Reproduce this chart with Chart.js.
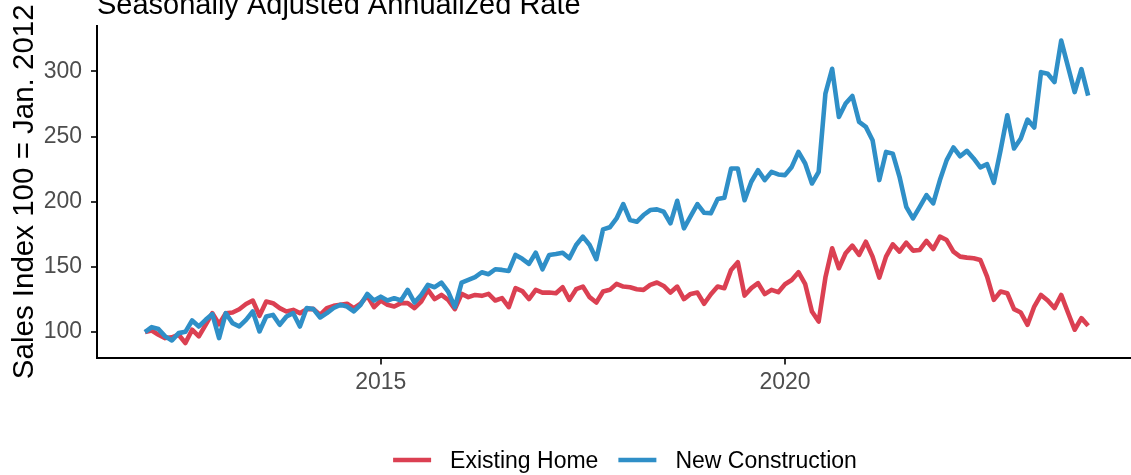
<!DOCTYPE html>
<html>
<head>
<meta charset="utf-8">
<script src="https://cdn.jsdelivr.net/npm/chart.js@4"></script>
<style>
html,body{margin:0;padding:0;background:#fff;overflow:hidden;}
#wrap{width:1131px;height:475px;position:relative;}
</style>
</head>
<body>
<div id="wrap"><canvas id="c" width="1131" height="475"></canvas></div>
<script>
// ---- Data ----
const startYear = 2012; // series begin Jan. 2012, one value per month (plotted at month end)
const seriesNames = ['Existing Home', 'New Construction'];
const existingHome = [
  100, 101.2, 98, 95.4, 96, 98, 91.6, 101.8, 96.7, 105.6, 114.5, 106,
  114.5, 115, 117.5, 121.5, 124.2, 112.5, 123.4, 122.2, 118.4, 115.8, 117, 114.5,
  117.6, 117.8, 113.2, 118.4, 120.1, 120.9, 121.7, 118.4, 121.7, 127.8, 119.1, 124.2,
  120.9, 119.6, 122.2, 122.2, 118.4, 123.4, 132.4, 125.3, 128.5, 124.7, 117.6, 129.3,
  126.8, 128.5, 127.8, 129.3, 124.2, 126, 119.1, 133.7, 131.5, 125.3, 132.4, 130.3,
  130.3, 129.8, 134.4, 124.7, 132.9, 134.9, 126.8, 122.7, 131.1, 132.4, 137, 134.9,
  134.4, 132.9, 132.4, 136.2, 138, 135.4, 130.3, 134.9, 125.3, 129.3, 130.3, 121.7,
  129, 134.9, 133.7, 147.7, 153.6, 128, 133.7, 137.5, 129.1, 132.4, 130.6, 136.7,
  140, 145.9, 136.7, 115.8, 108.1, 141.8, 164.3, 149, 160.5, 166.3, 159.2, 169.3,
  157.9, 141.8, 157.9, 167.3, 161.7, 168.6, 162.5, 163, 169.9, 163.7, 173.2, 170.6,
  161.7, 157.9, 157.1, 156.6, 155.3, 142.6, 124.7, 131.1, 129.8, 117.6, 115, 105.6,
  119.6, 128.5, 124.2, 118.4, 128.5, 115, 101.8, 110.7, 104.8
];
const newConstruction = [
  100, 103.8, 102.3, 96.7, 93.6, 99.2, 100.2, 108.9, 104.3, 109.4, 113.8, 95.4,
  114.5, 106.9, 104.3, 109.4, 115.8, 100.5, 111.9, 113.2, 105.6, 111.9, 114.5, 104.3,
  118.4, 117.6, 111.2, 114.5, 118.5, 120.9, 119.6, 115.8, 120.9, 129.3, 124.2, 127.2,
  124.2, 126, 124.2, 132.4, 122.7, 128.5, 136.2, 134.4, 138, 131.1, 119.1, 138,
  140, 142.1, 145.9, 144.4, 148.2, 147.7, 146.9, 159.2, 156.2, 152.3, 160.9, 148.2,
  159.2, 159.9, 160.9, 156.6, 166.8, 173.2, 166.8, 155.9, 178.8, 180.4, 187.2, 198.2,
  185.9, 184.6, 189.8, 193.6, 194.1, 192.3, 183.4, 200.7, 179.6, 189, 198.2, 191.5,
  191.1, 202, 203, 225.5, 225.5, 201.2, 215.3, 224.2, 216.6, 222.9, 220.9, 220.4,
  226.7, 238.2, 229.3, 214, 222.9, 282.9, 302, 265, 275.3, 281.1, 261.2, 257.4,
  247.2, 216.6, 238.2, 236.9, 219.1, 196.1, 187.2, 196.1, 205.1, 198.7, 216.6, 231.9,
  241.6, 234.9, 239, 233.2, 226.3, 228.8, 214.5, 239.5, 266.3, 240.8, 248.5, 263,
  256.9, 299.4, 298.2, 291.8, 323.6, 303.8, 284.1, 301.7, 281.4
];
const xTickYears = [2015, 2020];
const xTickLabels = ['2015', '2020'];
const yTickValues = [100, 150, 200, 250, 300];
const yTickLabels = ['100', '150', '200', '250', '300'];
const subtitleText = 'Seasonally Adjusted Annualized Rate';
const yAxisTitle = 'Sales Index 100 = Jan. 2012';

// ---- Styling ----
const FONT = "'Liberation Sans', Arial, Helvetica, sans-serif";
const RED = '#DB4052';
const BLUE = '#2F8FC7';

function toPoints(values) {
  return values.map((v, i) => ({ x: startYear + (i + 1) / 12, y: v }));
}

const textPlugin = {
  id: 'extraTexts',
  afterDraw(chart) {
    const ctx = chart.ctx;
    const area = chart.chartArea;
    ctx.save();
    // subtitle (top, partly cut by the frame)
    ctx.fillStyle = '#000';
    ctx.textAlign = 'left';
    ctx.textBaseline = 'alphabetic';
    ctx.font = '29px ' + FONT;
    ctx.fillText(subtitleText, area.left, 14);

    // legend at bottom
    ctx.font = '23px ' + FONT;
    const keyW = 38, keyGap = 19, itemGap = 20;
    const ds = chart.data.datasets;
    const widths = ds.map(d => keyW + keyGap + ctx.measureText(d.label).width);
    const total = widths.reduce((a, b) => a + b, 0) + itemGap * (ds.length - 1);
    let x = 625 - total / 2;
    const keyY = 460, textBase = 468;
    ds.forEach((d, k) => {
      ctx.strokeStyle = d.borderColor;
      ctx.lineWidth = 4.6;
      ctx.lineCap = 'butt';
      ctx.beginPath();
      ctx.moveTo(x, keyY);
      ctx.lineTo(x + keyW, keyY);
      ctx.stroke();
      ctx.fillStyle = '#000';
      ctx.fillText(d.label, x + keyW + keyGap, textBase);
      x += widths[k] + itemGap;
    });
    ctx.restore();
  }
};

new Chart(document.getElementById('c'), {
  type: 'line',
  data: {
    datasets: [
      {
        label: seriesNames[0],
        data: toPoints(existingHome),
        borderColor: RED,
        backgroundColor: RED,
        borderWidth: 4.6,
        pointRadius: 0,
        tension: 0,
        borderJoinStyle: 'round',
        fill: false,
        order: 1
      },
      {
        label: seriesNames[1],
        data: toPoints(newConstruction),
        borderColor: BLUE,
        backgroundColor: BLUE,
        borderWidth: 4.6,
        pointRadius: 0,
        tension: 0,
        borderJoinStyle: 'round',
        fill: false,
        order: 0
      }
    ]
  },
  options: {
    responsive: false,
    animation: false,
    devicePixelRatio: 1,
    layout: { padding: { top: 26, left: 0, right: 0, bottom: 0 } },
    plugins: {
      legend: { display: false },
      tooltip: { enabled: false },
      title: { display: false }
    },
    scales: {
      x: {
        type: 'linear',
        min: 2011.49,
        max: 2024.28,
        afterBuildTicks: s => { s.ticks = xTickYears.map(v => ({ value: v })); },
        ticks: {
          callback: (v) => xTickLabels[xTickYears.indexOf(v)] ?? '',
          color: '#4d4d4d',
          font: { size: 23, family: FONT },
          padding: 4,
          maxRotation: 0,
          autoSkip: false
        },
        grid: {
          drawOnChartArea: false,
          drawTicks: true,
          tickLength: 7,
          tickColor: '#333',
          tickWidth: 2,
          color: '#333',
          lineWidth: 2
        },
        border: { display: true, color: '#000', width: 2 },
        afterFit: s => { s.height = 475 - 357.5; }
      },
      y: {
        type: 'linear',
        min: 80.5,
        max: 334.8,
        afterBuildTicks: s => { s.ticks = yTickValues.map(v => ({ value: v })); },
        ticks: {
          callback: (v) => yTickLabels[yTickValues.indexOf(v)] ?? '',
          color: '#4d4d4d',
          font: { size: 23, family: FONT },
          padding: 9
        },
        grid: {
          drawOnChartArea: false,
          drawTicks: true,
          tickLength: 6,
          tickColor: '#333',
          tickWidth: 2,
          color: '#333',
          lineWidth: 2
        },
        border: { display: true, color: '#000', width: 2 },
        title: {
          display: true,
          text: yAxisTitle,
          color: '#000',
          font: { size: 29.5, family: FONT },
          padding: { top: 7.5, bottom: 0 }
        },
        afterFit: s => { s.width = 97; }
      }
    }
  },
  plugins: [textPlugin]
});
</script>
</body>
</html>
